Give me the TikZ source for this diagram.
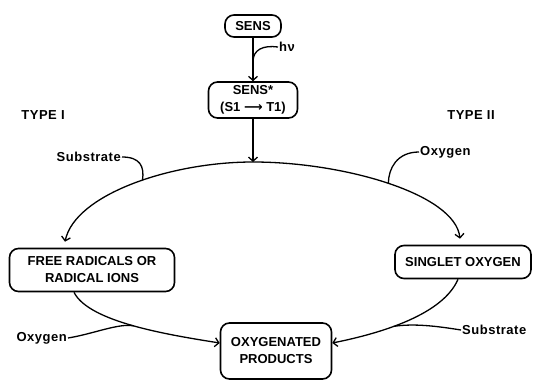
\documentclass[tikz,border=0pt]{standalone}
\usepackage{fontspec}
\setmainfont{Liberation Sans}
\newfontfamily\arrowfont{DejaVu Sans}
\usetikzlibrary{arrows.meta}

\begin{document}
\begin{tikzpicture}[x=1pt,y=-1pt,
  box/.style={draw,line width=1.6pt,rounded corners=9pt,align=center,inner sep=0pt,
    font=\fontsize{13}{17}\selectfont\bfseries},
  lbl/.style={inner sep=1pt,font=\fontsize{13}{15}\selectfont\bfseries\addfontfeatures{LetterSpace=4}},
  link/.style={line width=1.3pt},
  flow/.style={line width=1.3pt,-{Straight Barb[length=4pt,width=9pt]}}]
\useasboundingbox (0,0) rectangle (539,380);
\node[box,minimum width=56pt,minimum height=22pt] (sens) at (253,26) {SENS};
\node[box,minimum width=89pt,minimum height=36pt] (sensx) at (253,100) {SENS*\\(S1 {\arrowfont\bfseries ⟶} T1)};
\node[box,minimum width=165pt,minimum height=43pt] (fr) at (92,270) {FREE RADICALS OR\\RADICAL IONS};
\node[box,minimum width=136pt,minimum height=33pt] (so) at (463,262) {SINGLET OXYGEN};
\node[box,minimum width=111pt,minimum height=56pt] (op) at (276,351) {OXYGENATED\\PRODUCTS};
\node[lbl] (type1) at (43,115) {TYPE I};
\node[lbl] (type2) at (471,115) {TYPE II};
\node[lbl,anchor=west] (hnu) at (278,47) {hν};
\node[lbl,anchor=east] (subL) at (122,157) {Substrate};
\node[lbl,anchor=west] (oxyR) at (419,152) {Oxygen};
\node[lbl,anchor=east] (oxyL) at (68,338) {Oxygen};
\node[lbl,anchor=west] (subR) at (461,330) {Substrate};
\coordinate (top) at (253,162);
\draw[flow] (sens) -- (sensx) coordinate[pos=0.55] (hj);
\draw[link] (hnu.west) .. controls +(-15,-2) and +(0,-12) .. (hj);
\draw[flow] (sensx) -- (top);
\draw[link,{Straight Barb[length=4pt,width=9pt]}-{Straight Barb[length=4pt,width=9pt]}]
  ([xshift=-27pt,yshift=6pt]fr.north) .. controls +(10,-47) and +(-83,0) .. (top) coordinate[pos=0.55] (sj)
  .. controls +(90,0) and +(-5,-45) .. ([xshift=-3pt,yshift=6pt]so.north) coordinate[pos=0.5] (oj);
\draw[link] (subL.east) .. controls +(18,0) and +(2,-14) .. (sj);
\draw[link] (oxyR.west) .. controls +(-22,0) and +(0,-15) .. (oj);
\draw[flow] ([xshift=-18pt]fr.south) .. controls +(15,30) and +(-50,-8) .. ([yshift=8pt]op.west) coordinate[pos=0.5] (lj);
\draw[link] (oxyL.east) .. controls +(25,-4) and +(-15,-3) .. (lj);
\draw[flow] ([xshift=-5pt]so.south) .. controls +(-15,35) and +(50,-10) .. ([yshift=8pt]op.east) coordinate[pos=0.6] (rj);
\draw[link] (subR.west) .. controls +(-25,-4) and +(20,-3) .. (rj);
\end{tikzpicture}
\end{document}
